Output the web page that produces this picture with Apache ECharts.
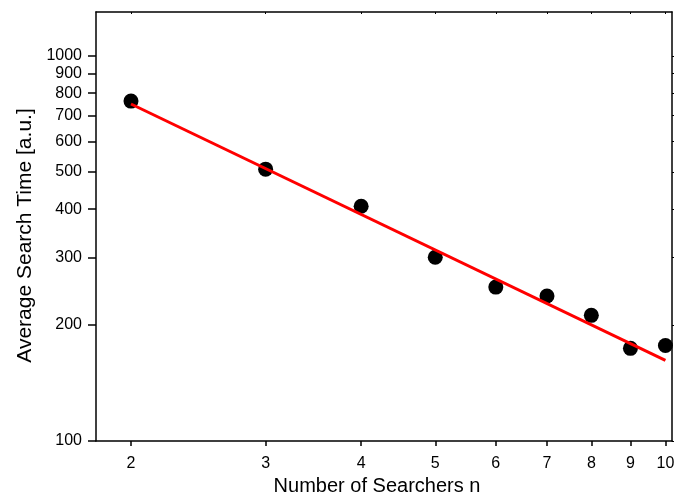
<!DOCTYPE html>
<html>
<head>
<meta charset="utf-8">
<script src="https://cdn.jsdelivr.net/npm/echarts@6/dist/echarts.min.js"></script>
<style>html,body{margin:0;padding:0;background:#fff}#c{width:676px;height:495px}</style>
</head>
<body>
<div id="c"></div>
<script>
var searchers = [2, 3, 4, 5, 6, 7, 8, 9, 10];
var searchTime = [763, 508, 407, 300, 251, 238, 212, 174, 177];
var fitX = [2, 10];
var fitY = [750, 162];
var xTicks = [2, 3, 4, 5, 6, 7, 8, 9, 10];
var yTicks = [100, 200, 300, 400, 500, 600, 700, 800, 900, 1000];

var font = 'Liberation Sans';
var chart = echarts.init(document.getElementById('c'));
var pts = searchers.map(function (n, i) { return [n, searchTime[i]]; });
var fit = fitX.map(function (n, i) { return [n, fitY[i]]; });

chart.setOption({
  animation: false,
  backgroundColor: '#fff',
  grid: { left: 96, right: 4, top: 12, bottom: 54, containLabel: false, outerBoundsMode: 'none' },
  xAxis: [{
    type: 'log', logBase: 10, min: 1.8, max: 10.2,
    name: 'Number of Searchers n', nameLocation: 'middle', nameGap: 33,
    nameTextStyle: { fontFamily: font, fontSize: 20, color: '#000', padding: [0, 14, 0, 0] },
    axisLine: { show: true, lineStyle: { color: '#000', width: 1.5 } },
    axisTick: { show: true, inside: false, length: 5, lineStyle: { color: '#000', width: 1.5 }, customValues: xTicks },
    axisLabel: { show: true, margin: 15, fontFamily: font, fontSize: 16, color: '#000', customValues: xTicks,
      formatter: function (v) { return String(Math.round(v)); } },
    minorTick: { show: false }, splitLine: { show: false }
  }, {
    type: 'log', logBase: 10, min: 1.8, max: 10.2, position: 'top',
    axisLine: { show: true, lineStyle: { color: '#000', width: 1.5 } },
    axisTick: { show: true, inside: true, length: 2, lineStyle: { color: '#000', width: 1 }, customValues: xTicks },
    axisLabel: { show: false }, splitLine: { show: false }
  }],
  yAxis: [{
    type: 'log', logBase: 10, min: 100, max: 1300,
    name: 'Average Search Time [a.u.]', nameLocation: 'middle', nameGap: 60,
    nameTextStyle: { fontFamily: font, fontSize: 21, color: '#000', padding: [0, 18, 0, 0] },
    axisLine: { show: true, lineStyle: { color: '#000', width: 1.5 } },
    axisTick: { show: true, inside: false, length: 8, lineStyle: { color: '#000', width: 1.5 }, customValues: yTicks },
    axisLabel: { show: true, margin: 14, fontFamily: font, fontSize: 16, color: '#000', customValues: yTicks,
      formatter: function (v) { return String(Math.round(v)); } },
    minorTick: { show: false }, splitLine: { show: false }
  }, {
    type: 'log', logBase: 10, min: 100, max: 1300, position: 'right',
    axisLine: { show: true, lineStyle: { color: '#000', width: 1.5 } },
    axisTick: { show: true, inside: false, length: 2, lineStyle: { color: '#000', width: 1 }, customValues: yTicks },
    axisLabel: { show: false }, splitLine: { show: false }
  }],
  series: [{
    type: 'line', data: fit, xAxisIndex: 0, yAxisIndex: 0,
    showSymbol: false, symbol: 'none',
    lineStyle: { color: '#ff0000', width: 3 }, z: 3
  }, {
    type: 'scatter', data: pts, xAxisIndex: 0, yAxisIndex: 0,
    symbol: 'circle', symbolSize: 15,
    itemStyle: { color: '#000', opacity: 1 }, z: 2
  }]
});
</script>
</body>
</html>
